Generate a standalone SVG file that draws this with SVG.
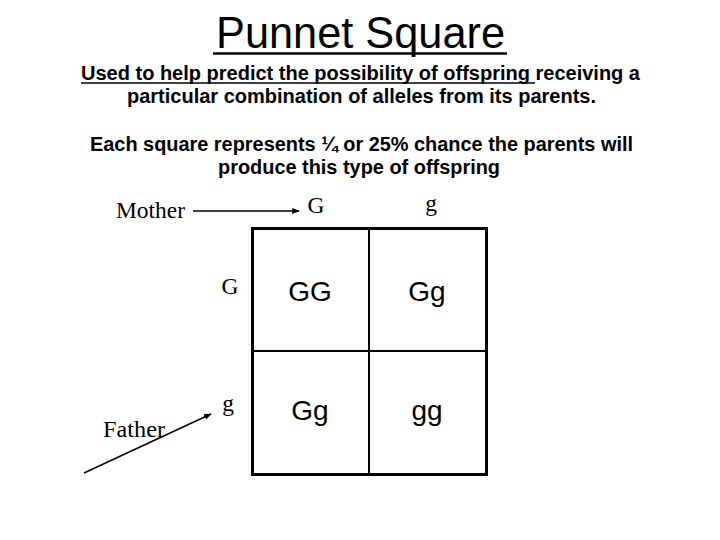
<svg xmlns="http://www.w3.org/2000/svg" width="720" height="540" viewBox="0 0 720 540">
<defs>
<style>
.s{font-family:"Liberation Sans",Arial,sans-serif;fill:#000}
.b{font-weight:bold;font-size:20px}
.r{font-family:"Liberation Serif","Times New Roman",serif;font-size:23.5px;fill:#000}
.c{font-size:28px}
.ln{stroke:#000;fill:none}
</style>
<marker id="ah" viewBox="0 0 10 10" refX="9" refY="5" markerWidth="5" markerHeight="5" orient="auto"><path d="M0,1 L10,5 L0,9 z" fill="#000"/></marker>
</defs>
<rect width="720" height="540" fill="#fff"/>
<g id="title">
<text class="s" x="216" y="48" font-size="44" textLength="289" lengthAdjust="spacingAndGlyphs">Punnet Square</text>
<line class="ln" x1="213" y1="53.5" x2="507" y2="53.5" stroke-width="2.5"/>
</g>
<g id="subtitle">
<text class="s b" x="81" y="80" textLength="559" lengthAdjust="spacingAndGlyphs">Used to help predict the possibility of offspring receiving a</text>
<line class="ln" x1="81" y1="83" x2="535" y2="83" stroke-width="1.5"/>
<text class="s b" x="127" y="103" textLength="469" lengthAdjust="spacingAndGlyphs">particular combination of alleles from its parents.</text>
</g>
<g id="note">
<text class="s b" x="90" y="151" textLength="543" lengthAdjust="spacingAndGlyphs">Each square represents ¼ or 25% chance the parents will</text>
<text class="s b" x="218" y="174" textLength="282" lengthAdjust="spacingAndGlyphs">produce this type of offspring</text>
</g>
<g id="mother"><text class="r" x="116" y="218" textLength="69" lengthAdjust="spacingAndGlyphs">Mother</text></g>
<g id="father"><text class="r" x="103" y="437" textLength="62" lengthAdjust="spacingAndGlyphs">Father</text></g>
<g id="alleles">
<text class="r" x="316" y="213" text-anchor="middle">G</text>
<text class="r" x="431" y="211" text-anchor="middle">g</text>
<text class="r" x="230" y="294" text-anchor="middle">G</text>
<text class="r" x="228" y="411" text-anchor="middle">g</text>
</g>
<g id="grid">
<rect class="ln" x="252.5" y="228.5" width="234" height="246" stroke-width="3"/>
<line class="ln" x1="369" y1="228" x2="369" y2="475" stroke-width="2"/>
<line class="ln" x1="252" y1="351" x2="487" y2="351" stroke-width="2"/>
</g>
<g id="cells">
<text class="s c" x="310" y="301" text-anchor="middle">GG</text>
<text class="s c" x="427" y="301" text-anchor="middle">Gg</text>
<text class="s c" x="310" y="420" text-anchor="middle">Gg</text>
<text class="s c" x="427" y="420" text-anchor="middle">gg</text>
</g>
<g id="connectors">
<line class="ln" x1="193" y1="211" x2="299" y2="211" stroke-width="1.5" marker-end="url(#ah)"/>
<line class="ln" x1="84" y1="473" x2="211" y2="414" stroke-width="1.5" marker-end="url(#ah)"/>
</g>
</svg>
